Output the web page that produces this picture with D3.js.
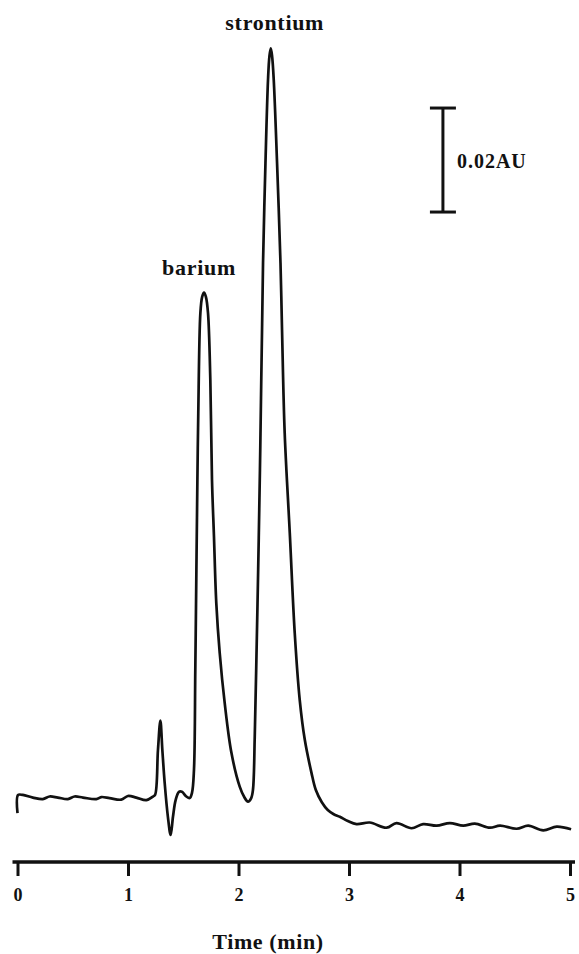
<!DOCTYPE html>
<html>
<head>
<meta charset="utf-8">
<script src="https://cdn.jsdelivr.net/npm/d3@7"></script>
<style>
  body { margin: 0; background: #fff; }
  svg text { font-family: "Liberation Serif", "DejaVu Serif", serif; font-weight: bold; fill: #111; }
</style>
</head>
<body>
<svg id="chart" width="579" height="954"></svg>
<script>
// time (min) of each trace point
const times = [
  0.000, 0.005, 0.048, 0.139, 0.229, 0.290, 0.365, 0.456, 0.516, 0.592,
  0.713, 0.758, 0.833, 0.939, 0.999, 1.075, 1.166, 1.226, 1.245, 1.271,
  1.293, 1.311, 1.332, 1.361, 1.386, 1.407, 1.431, 1.461, 1.488, 1.528,
  1.558, 1.579, 1.597, 1.609, 1.619, 1.628, 1.636, 1.655, 1.671, 1.688,
  1.705, 1.724, 1.745, 1.760, 1.778, 1.799, 1.830, 1.875, 1.936, 2.011,
  2.052, 2.086, 2.115, 2.131, 2.147, 2.160, 2.178, 2.194, 2.206, 2.213,
  2.222, 2.244, 2.267, 2.280, 2.292, 2.304, 2.319, 2.349, 2.380, 2.394,
  2.418, 2.464, 2.509, 2.554, 2.600, 2.660, 2.699, 2.754, 2.808, 2.862,
  2.917, 2.989, 3.068, 3.188, 3.340, 3.430, 3.566, 3.671, 3.793, 3.913,
  4.034, 4.139, 4.275, 4.366, 4.517, 4.622, 4.758, 4.880, 5.010
];

// absorbance (AU) at each time
const absorbance = [
  -0.0028, 0.0007, 0.0007, 0.0002, -0.0001, 0.0004, 0.0002, -0.0001, 0.0004, 0.0002,
  -0.0001, 0.0003, 0.0001, -0.0002, 0.0005, 0.0002, -0.0003, 0.0004, 0.0007, 0.0093,
  0.0150, 0.0093, 0.0030, -0.0035, -0.0070, -0.0035, -0.0003, 0.0013, 0.0013, 0.0004,
  0.0001, 0.0011, 0.0055, 0.0247, 0.0440, 0.0613, 0.0741, 0.0934, 0.0965, 0.0973,
  0.0965, 0.0934, 0.0805, 0.0613, 0.0504, 0.0376, 0.0280, 0.0184, 0.0088, 0.0023,
  0.0003, -0.0006, 0.0001, 0.0017, 0.0119, 0.0247, 0.0440, 0.0632, 0.0805, 0.0901,
  0.1030, 0.1222, 0.1382, 0.1428, 0.1443, 0.1428, 0.1382, 0.1222, 0.1030, 0.0901,
  0.0703, 0.0511, 0.0318, 0.0190, 0.0113, 0.0050, 0.0017, -0.0007, -0.0022, -0.0030,
  -0.0035, -0.0043, -0.0049, -0.0046, -0.0056, -0.0047, -0.0057, -0.0049, -0.0052, -0.0047,
  -0.0052, -0.0048, -0.0056, -0.0052, -0.0058, -0.0052, -0.0061, -0.0054, -0.0059
];

const xTicks = [0, 1, 2, 3, 4, 5];
const peakNames = ['barium', 'strontium'];
const peakTimes = [1.688, 2.292];
const peakHeights = [0.0973, 0.1443];
const scaleBarValue = 0.02;
const scaleBarLabel = '0.02AU';
const xTitle = 'Time (min)';

const svg = d3.select('#chart');

const x = d3.scaleLinear().domain([0, 5]).range([17.5, 570]);
const y = d3.scaleLinear().domain([-0.012, 0.148]).range([861, 29]);

const axisY = 862;

// x axis
const axis = svg.append('g')
  .attr('transform', 'translate(0,' + axisY + ')')
  .call(d3.axisBottom(x).tickValues(xTicks).tickSize(14).tickPadding(12).tickFormat(d3.format('d')));
axis.select('.domain')
  .attr('d', 'M' + (x(0) - 5) + ',0H' + (x(5) + 5))
  .attr('stroke', '#111')
  .attr('stroke-width', 3.5);
axis.selectAll('.tick line').attr('stroke', '#111').attr('stroke-width', 3);
axis.selectAll('.tick text')
  .attr('font-size', 18)
  .attr('fill', '#111');

svg.append('text')
  .attr('x', 268)
  .attr('y', 949)
  .attr('text-anchor', 'middle')
  .attr('font-size', 22)
  .attr('letter-spacing', 0.6)
  .text(xTitle);

// chromatogram trace
const line = d3.line()
  .x(function(d, i) { return x(times[i]); })
  .y(function(d) { return y(d); })
  .curve(d3.curveCatmullRom.alpha(0.5));

svg.append('path')
  .datum(absorbance)
  .attr('fill', 'none')
  .attr('stroke', '#111')
  .attr('stroke-width', 2.7)
  .attr('stroke-linejoin', 'round')
  .attr('d', line);

// peak labels
svg.selectAll('.peak-label')
  .data(peakNames)
  .enter().append('text')
  .attr('class', 'peak-label')
  .attr('x', function(d, i) { return x(peakTimes[i]) + (i === 0 ? -5 : 4); })
  .attr('y', function(d, i) { return y(peakHeights[i]) - 18; })
  .attr('text-anchor', 'middle')
  .attr('font-size', 22)
  .attr('letter-spacing', 0.7)
  .text(function(d) { return d; });

// scale bar
const barT = 3.85, barTop = 0.1328;
const bx = x(barT), by0 = y(barTop), by1 = y(barTop - scaleBarValue);
const bar = svg.append('g').attr('stroke', '#111').attr('stroke-width', 3);
bar.append('line').attr('x1', bx).attr('x2', bx).attr('y1', by0).attr('y2', by1);
bar.append('line').attr('x1', bx - 13).attr('x2', bx + 13).attr('y1', by0).attr('y2', by0);
bar.append('line').attr('x1', bx - 13).attr('x2', bx + 13).attr('y1', by1).attr('y2', by1);
svg.append('text')
  .attr('x', bx + 14)
  .attr('y', (by0 + by1) / 2 + 8)
  .attr('font-size', 20)
  .attr('letter-spacing', 1)
  .text(scaleBarLabel);
</script>
</body>
</html>
